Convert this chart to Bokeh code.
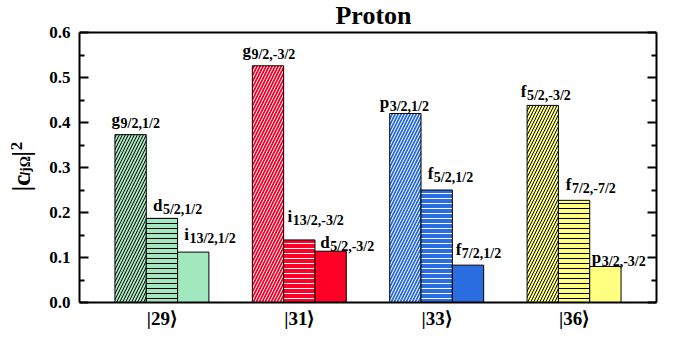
import numpy as np
from bokeh.plotting import figure
from bokeh.layouts import row
from bokeh.models import ColumnDataSource, Label, LinearAxis, FixedTicker, Range1d, Span
from bokeh.embed import file_html
from bokeh.resources import INLINE

# ---- data ----
states = ["|29⟩", "|31⟩", "|33⟩", "|36⟩"]
group_x = [0, 1, 2, 3]

vals_a = [0.373, 0.526, 0.420, 0.438]   # first (diagonal-hatched) bar
vals_b = [0.187, 0.139, 0.250, 0.227]   # second (line-hatched) bar
vals_c = [0.112, 0.114, 0.083, 0.080]   # third (plain) bar

orb_a = ["g", "g", "p", "f"]
sub_a = ["9/2,1/2", "9/2,-3/2", "3/2,1/2", "5/2,-3/2"]
orb_b = ["d", "i", "f", "f"]
sub_b = ["5/2,1/2", "13/2,-3/2", "5/2,1/2", "7/2,-7/2"]
orb_c = ["i", "d", "f", "p"]
sub_c = ["13/2,1/2", "5/2,-3/2", "7/2,1/2", "3/2,-3/2"]

y_ticks = [0.0, 0.1, 0.2, 0.3, 0.4, 0.5, 0.6]
y_minor = [0.05, 0.15, 0.25, 0.35, 0.45, 0.55]
y_max = 0.6

# ---- styles ----
colors = ["#A2E8BE", "#FF0027", "#2A6DE0", "#FFFF80"]
hatch_colors = ["black", "white", "white", "black"]
bar_w = 0.228
slot_off = [-bar_w, 0.0, bar_w]
FONT = "Liberation Serif"

# label offsets in px: (dx from bar centre to text start, dy baseline above bar top)
dx_a = [-19, -25.6, -25.6, -22]
dy_a = [15, 15.6, 11, 13.7]
dx_b = [-9, -11.7, -9, -8.3]
dy_b = [13, 23.7, 16.7, 15.6]
dx_c = [-9, -10.3, -12.3, -13.6]
dy_c = [17.5, 9, 15.6, 9.5]
em = {"g": 0.5, "d": 0.556, "i": 0.278, "p": 0.556, "f": 0.333}
main_fs = 17
sub_fs = 14

TOTAL_W, TOTAL_H = 667, 331
LAB_W = 40
FRAME_H = 302        # frame reaches the canvas top; the 0.6 line sits TOP_GAP px below
TOP_GAP = 32
y_top = y_max * FRAME_H / (FRAME_H - TOP_GAP)

# ---- main plot ----
p = figure(width=TOTAL_W - LAB_W, height=TOTAL_H,
           x_range=Range1d(-0.6, 3.6), y_range=Range1d(0, y_top),
           output_backend="svg", toolbar_location=None,
           min_border_left=79 - LAB_W, min_border_right=11, min_border_top=0,
           min_border_bottom=TOTAL_H - FRAME_H)
p.grid.visible = False
p.outline_line_color = None
p.background_fill_color = "white"
p.border_fill_color = "white"
p.add_layout(Span(location=y_max, dimension="width", line_color="black", line_width=2))

patterns = ["/", "-", " "]
for k, vals in enumerate([vals_a, vals_b, vals_c]):
    src = ColumnDataSource(dict(x=[g + slot_off[k] for g in group_x], top=vals,
                                fc=colors, hc=hatch_colors))
    kw = {}
    if patterns[k] != " ":
        kw = dict(hatch_pattern=patterns[k], hatch_color="hc", hatch_weight=1,
                  hatch_scale=6 if k == 0 else 5)
    p.vbar(x="x", top="top", bottom=0, width=bar_w, source=src, fill_color="fc",
           line_color="black", line_width=1, **kw)

# bar labels
for k, (vals, orbs, subs, dxs, dys) in enumerate([(vals_a, orb_a, sub_a, dx_a, dy_a),
                                                   (vals_b, orb_b, sub_b, dx_b, dy_b),
                                                   (vals_c, orb_c, sub_c, dx_c, dy_c)]):
    for g in range(4):
        x = group_x[g] + slot_off[k]
        p.add_layout(Label(x=x, y=vals[g], x_offset=dxs[g], y_offset=dys[g], text=orbs[g],
                           text_font=FONT, text_font_style="bold", text_font_size=f"{main_fs}px",
                           text_align="left", text_baseline="alphabetic", text_color="black"))
        p.add_layout(Label(x=x, y=vals[g], x_offset=dxs[g] + em[orbs[g]] * main_fs + 0.5,
                           y_offset=dys[g] - 4, text=subs[g],
                           text_font=FONT, text_font_style="bold", text_font_size=f"{sub_fs}px",
                           text_align="left", text_baseline="alphabetic", text_color="black"))

# title, inside the (taller) frame above the 0.6 line
p.add_layout(Label(x=294, y=FRAME_H - 15, x_units="screen", y_units="screen", text="Proton",
                   text_font=FONT, text_font_style="bold", text_font_size="26px",
                   text_align="center", text_baseline="alphabetic", text_color="black"))

# axes
xa = p.xaxis[0]
xa.ticker = FixedTicker(ticks=group_x)
xa.major_label_overrides = {g: s for g, s in zip(group_x, states)}
xa.major_tick_in = 0
xa.major_tick_out = 0
xa.minor_tick_in = 0
xa.minor_tick_out = 0
xa.axis_line_width = 2
xa.major_label_standoff = 5
xa.major_label_text_font = FONT
xa.major_label_text_font_style = "bold"
xa.major_label_text_font_size = "19px"
xa.major_label_text_color = "black"

def style_y(ax):
    ax.bounds = (0, y_max)
    ax.major_tick_in = 9
    ax.major_tick_out = 0
    ax.minor_tick_in = 5
    ax.minor_tick_out = 0
    ax.major_tick_line_width = 2
    ax.minor_tick_line_width = 2
    ax.axis_line_width = 2

ya = p.yaxis[0]
ya.ticker = FixedTicker(ticks=y_ticks, minor_ticks=y_minor)
ya.major_label_overrides = {t: f"{t:.1f}" for t in y_ticks}
style_y(ya)
ya.major_label_standoff = 9
ya.major_label_text_font = FONT
ya.major_label_text_font_style = "bold"
ya.major_label_text_font_size = "17px"
ya.major_label_text_color = "black"

ra = LinearAxis(ticker=FixedTicker(ticks=y_ticks, minor_ticks=y_minor))
ra.major_label_overrides = {t: "" for t in y_ticks}
style_y(ra)
ra.major_label_standoff = 0
p.add_layout(ra, "right")

# ---- y-label strip: |c_{ljΩ}|^2, rotated ----
lf = figure(width=LAB_W, height=TOTAL_H, x_range=Range1d(0, LAB_W), y_range=Range1d(0, TOTAL_H),
            output_backend="svg", toolbar_location=None, x_axis_type=None, y_axis_type=None,
            min_border=0)
lf.outline_line_color = None
lf.grid.visible = False
lf.background_fill_color = "white"
lf.border_fill_color = "white"

def ylab(text, x, y, size, style="bold"):
    lf.add_layout(Label(x=x, y=y, text=text, angle=np.pi / 2,
                        text_font=FONT, text_font_style=style, text_font_size=f"{size}px",
                        text_align="left", text_baseline="alphabetic", text_color="black"))

ylab("|c", 21, 122, 25)
ylab("l", 25, 139, 14, "bold italic")
ylab("jΩ", 25, 143, 14)
ylab("|", 21, 160, 25)
ylab("2", 16, 167, 17)

layout = row(lf, p, spacing=0)
open("out.html", "w").write(file_html(layout, INLINE))
